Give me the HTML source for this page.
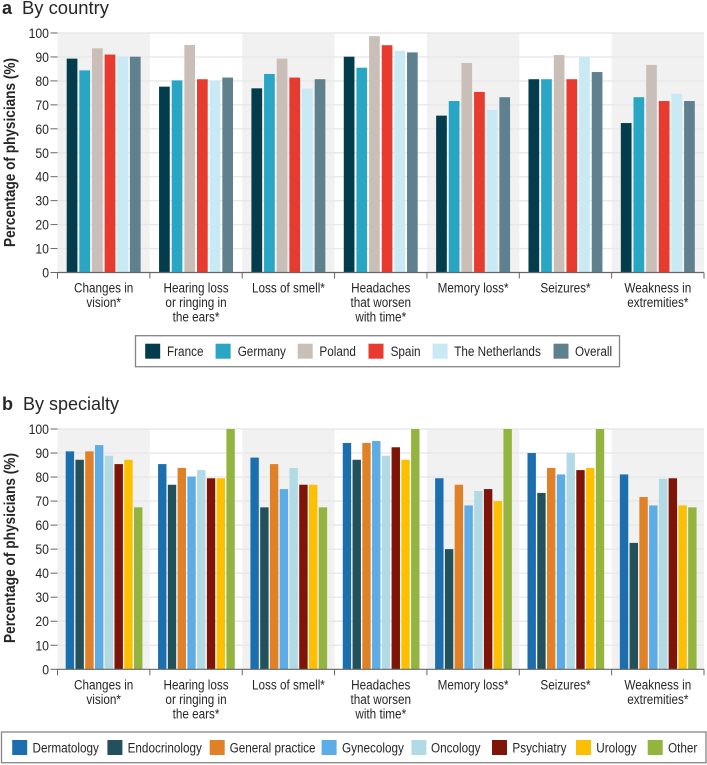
<!DOCTYPE html>
<html lang="en">
<head>
<meta charset="utf-8">
<title>Percentage of physicians by symptom</title>
<style>
html,body{margin:0;padding:0;background:#fff;width:707px;height:765px;overflow:hidden}
svg{display:block;font-family:"Liberation Sans",sans-serif;fill:#262626}
</style>
</head>
<body>
<svg id="chart" width="707" height="765" viewBox="0 0 707 765" xmlns="http://www.w3.org/2000/svg">
  <text x="2" y="14" font-size="18" font-weight="700">a</text>
  <text x="22" y="14" font-size="18" textLength="87" lengthAdjust="spacingAndGlyphs">By country</text>
  <text x="2" y="410" font-size="18" font-weight="700">b</text>
  <text x="23" y="410" font-size="18" textLength="96" lengthAdjust="spacingAndGlyphs">By specialty</text>
</svg>
<script>
const categories = [
  ["Changes in", "vision*"],
  ["Hearing loss", "or ringing in", "the ears*"],
  ["Loss of smell*"],
  ["Headaches", "that worsen", "with time*"],
  ["Memory loss*"],
  ["Seizures*"],
  ["Weakness in", "extremities*"]
];
const yTickLabels = [0, 10, 20, 30, 40, 50, 60, 70, 80, 90, 100];

const countryNames = ["France", "Germany", "Poland", "Spain", "The Netherlands", "Overall"];
const france = [89.3, 77.6, 76.9, 90.1, 65.5, 80.7, 62.4];
const germany = [84.4, 80.2, 82.9, 85.5, 71.6, 80.7, 73.2];
const poland = [93.6, 95.0, 89.3, 98.7, 87.5, 90.8, 86.7];
const spain = [91.0, 80.7, 81.4, 94.9, 75.4, 80.7, 71.6];
const netherlands = [90.1, 80.1, 76.8, 92.6, 67.9, 90.1, 74.6];
const overall = [90.1, 81.4, 80.7, 91.9, 73.2, 83.7, 71.6];

const specialtyNames = ["Dermatology", "Endocrinology", "General practice", "Gynecology", "Oncology", "Psychiatry", "Urology", "Other"];
const dermatology = [90.7, 85.4, 88.1, 94.2, 79.5, 90.0, 81.1];
const endocrinology = [87.2, 76.8, 67.4, 87.2, 50.0, 73.4, 52.6];
const generalPractice = [90.7, 83.8, 85.4, 94.2, 76.8, 83.8, 71.7];
const gynecology = [93.3, 80.2, 75.0, 95.0, 68.2, 81.1, 68.2];
const oncology = [88.9, 82.9, 83.8, 88.9, 74.2, 90.0, 79.3];
const psychiatry = [85.4, 79.5, 76.8, 92.4, 75.0, 82.9, 79.5];
const urology = [87.2, 79.5, 76.8, 87.2, 70.0, 83.8, 68.2];
const other = [67.4, 100, 67.4, 100, 100, 100, 67.4];

const countrySeries = [france, germany, poland, spain, netherlands, overall];
const specialtySeries = [dermatology, endocrinology, generalPractice, gynecology, oncology, psychiatry, urology, other];

const countryColors = ["#033d4d", "#29a6c4", "#c9bfb8", "#e63b2e", "#c9e9f4", "#5f818d"];
const specialtyColors = ["#1c6fae", "#22505b", "#e08127", "#5dace6", "#b2dae5", "#7f1509", "#fdc000", "#93b43e"];

const countryLegendSwatchX = [145.2, 215.6, 297.7, 368.5, 432.6, 553.5];
const countryLegendTextX = [167, 237.7, 319.4, 390.6, 454.2, 575];
const specialtyLegendSwatchX = [12.2, 107.4, 209.7, 321.6, 411.4, 492, 576, 647.7];
const specialtyLegendTextX = [32.5, 127.6, 229.6, 342, 431, 512.4, 596.3, 668];

const NS = "http://www.w3.org/2000/svg";
const root = document.getElementById("chart");
const AXIS_LEFT = 57.5;
const AXIS_RIGHT = 704;
const NARROW = 0.875;

function make(parent, tag, attrs) {
  const el = document.createElementNS(NS, tag);
  for (const key in attrs) el.setAttribute(key, attrs[key]);
  parent.appendChild(el);
  return el;
}

function narrowText(parent, x, y, size, anchor, content) {
  const el = make(parent, "text", {
    transform: "translate(" + x + " " + y + ") scale(" + NARROW + " 1)",
    "font-size": size,
    "text-anchor": anchor
  });
  el.textContent = content;
  return el;
}

function drawPanel(panel) {
  const yScale = function (v) { return panel.y0 + (panel.y100 - panel.y0) * v / 100; };
  const groupWidth = (AXIS_RIGHT - AXIS_LEFT) / categories.length;
  const xGroup = function (i) { return AXIS_LEFT + i * groupWidth; };
  const xBar = function (g, s) { return xGroup(g) + panel.barOffset + s * panel.barPitch; };

  const plot = make(root, "g", {});
  
  

  categories.forEach(function (labelLines, i) {
    if (i % 2 === 0) {
      const band = make(plot, "rect", {
        x: xGroup(i), y: panel.y100, width: groupWidth,
        height: panel.y0 - panel.y100, fill: "#f1f1f1"
      });
      
      
    }
  });

  yTickLabels.forEach(function (tick) {
    const y = yScale(tick);
    if (tick > 0) {
      const grid = make(plot, "line", {
        x1: AXIS_LEFT, x2: AXIS_RIGHT, y1: y, y2: y,
        stroke: "#e8e8e8", "stroke-width": 1.4
      });
      
      
    }
    const mark = make(plot, "line", {
      x1: AXIS_LEFT - 7, x2: AXIS_LEFT, y1: y, y2: y,
      stroke: "#666", "stroke-width": 1
    });
    
    
    const label = narrowText(plot, 49, y + 5, 14, "end", String(tick));
    
    
  });

  panel.series.forEach(function (values, s) {
    values.forEach(function (value, g) {
      const top = yScale(value);
      const bar = make(plot, "rect", {
        x: xBar(g, s), y: top, width: panel.barWidth,
        height: panel.y0 - top, fill: panel.colors[s]
      });
      
      
    });
  });

  const axis = make(plot, "line", {
    x1: AXIS_LEFT, x2: AXIS_RIGHT, y1: panel.y0, y2: panel.y0,
    stroke: "#666", "stroke-width": 1.2
  });
  
  

  for (let i = 0; i <= categories.length; i++) {
    const tick = make(plot, "line", {
      x1: xGroup(i), x2: xGroup(i), y1: panel.y0, y2: panel.y0 + 6,
      stroke: "#666", "stroke-width": 1
    });
    
    
  }

  categories.forEach(function (labelLines, i) {
    labelLines.forEach(function (line, n) {
      const label = narrowText(plot, xGroup(i) + groupWidth / 2, panel.y0 + 20 + n * 14.6, 13.4, "middle", line);
      
      
    });
  });

  const midY = (panel.titleTop + panel.titleBottom) / 2;
  const title = make(plot, "text", {
    transform: "translate(15 " + midY + ") rotate(-90)",
    "font-size": 15.5, "font-weight": 700, "text-anchor": "middle",
    textLength: panel.titleBottom - panel.titleTop, lengthAdjust: "spacingAndGlyphs"
  });
  title.textContent = "Percentage of physicians (%)";
  
  

  const legend = make(root, "g", {});
  
  
  const box = panel.legendBox;
  const frame = make(legend, "rect", {
    x: box.x, y: box.y, width: box.w, height: box.h,
    fill: "#fff", stroke: "#858585", "stroke-width": 1.3
  });
  
  
  panel.names.forEach(function (name, s) {
    const swatch = make(legend, "rect", {
      x: panel.swatchX[s], y: box.y + 8, width: 15, height: 15, fill: panel.colors[s]
    });
    
    
    const text = narrowText(legend, panel.textX[s], box.y + 20.5, 13.4, "start", name);
    
    
  });
}

drawPanel({
  id: "country-panel",
  y0: 272.5, y100: 33,
  barOffset: 9.2, barPitch: 12.65, barWidth: 10.7,
  series: countrySeries, colors: countryColors, names: countryNames,
  swatchX: countryLegendSwatchX, textX: countryLegendTextX,
  titleTop: 58, titleBottom: 247,
  legendBox: { x: 135.5, y: 335.7, w: 484, h: 31 }
});

drawPanel({
  id: "specialty-panel",
  y0: 669.3, y100: 429,
  barOffset: 8.2, barPitch: 9.76, barWidth: 8.4,
  series: specialtySeries, colors: specialtyColors, names: specialtyNames,
  swatchX: specialtyLegendSwatchX, textX: specialtyLegendTextX,
  titleTop: 453, titleBottom: 643,
  legendBox: { x: 1.5, y: 732, w: 704.5, h: 30.7 }
});
</script>
</body>
</html>
